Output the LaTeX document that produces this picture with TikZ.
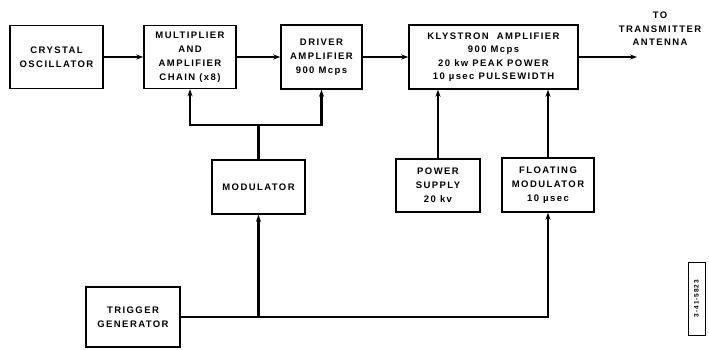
\documentclass[tikz,border=0pt]{standalone}
\usepackage{fontspec}
\newfontfamily\boxfont{Liberation Sans}[LetterSpace=15]
\usepackage{tikz}
\usetikzlibrary{arrows.meta, positioning, calc}

\tikzset{
  block/.style={draw, line width=1.5pt, align=center, inner sep=1pt,
    font=\boxfont\bfseries\fontsize{9.5}{14}\selectfont},
  sig/.style={line width=2.1pt, -{Stealth[length=7pt,width=5pt]}},
  wire/.style={line width=2.1pt}
}

\begin{document}
\begin{tikzpicture}[x=1pt, y=-1pt]
  \useasboundingbox (0,0) rectangle (709,349);

  % Transmitter chain (top row)
  \node[block, minimum width=93pt, minimum height=63pt] (xtal) at (56.5,57) {CRYSTAL\\OSCILLATOR};
  \node[block, minimum width=92pt, minimum height=63pt] (mult) at (190,57) {MULTIPLIER\\AND\\AMPLIFIER\\CHAIN (x8)};
  \node[block, minimum width=81pt, minimum height=64pt] (driver) at (321.5,57) {DRIVER\\AMPLIFIER\\900 Mcps};
  \node[block, minimum width=169pt, minimum height=64pt, font=\boxfont\bfseries\fontsize{9.5}{13.5}\selectfont] (klystron) at (493.5,57)
    {KLYSTRON\ \ AMPLIFIER\\900 Mcps\\20 kw PEAK POWER\\10 µsec PULSEWIDTH};
  \node[align=center, font=\boxfont\bfseries\fontsize{9.5}{13.5}\selectfont] (antlabel) at (660,29) {TO\\TRANSMITTER\\ANTENNA};
  \coordinate (ant) at (637,57);

  % Modulators and supply
  \node[block, minimum width=93pt, minimum height=54pt] (modulator) at (258.5,187) {MODULATOR};
  \node[block, minimum width=84pt, minimum height=53pt] (power) at (438,185.5) {POWER\\SUPPLY\\20 kv};
  \node[block, minimum width=92pt, minimum height=54pt] (floatmod) at (548,185) {FLOATING\\MODULATOR\\10 µsec};
  \node[block, minimum width=94pt, minimum height=60pt] (trigger) at (133,317) {TRIGGER\\GENERATOR};

  % Drawing number
  \node[draw, line width=1pt, minimum width=17pt, minimum height=73pt, inner sep=0pt] (dwg) at (696.5,298.5) {};
  \node[rotate=90, font=\boxfont\bfseries\fontsize{6.5}{6.5}\selectfont] (dwgno) at (dwg) {3-41-5823};

  % RF path
  \draw[sig] (xtal) -- (mult);
  \draw[sig] (mult) -- (driver);
  \draw[sig] (driver) -- (klystron);
  \draw[sig] (klystron) -- (ant);

  % Modulator feeds multiplier and driver
  \coordinate (split) at (258.5,125);
  \draw[wire] (modulator.north) -- (split);
  \draw[sig] (split) -| (mult.south);
  \draw[sig] (split) -| (driver.south);

  % Supply and floating modulator into klystron
  \draw[sig] (power.north) -- (power.north |- klystron.south);
  \draw[sig] (floatmod.north) -- (floatmod.north |- klystron.south);

  % Trigger line
  \coordinate (tap) at (modulator.south |- trigger.east);
  \draw[sig] (trigger.east) -| (floatmod.south);
  \draw[sig] (tap) -- (modulator.south);
\end{tikzpicture}
\end{document}
